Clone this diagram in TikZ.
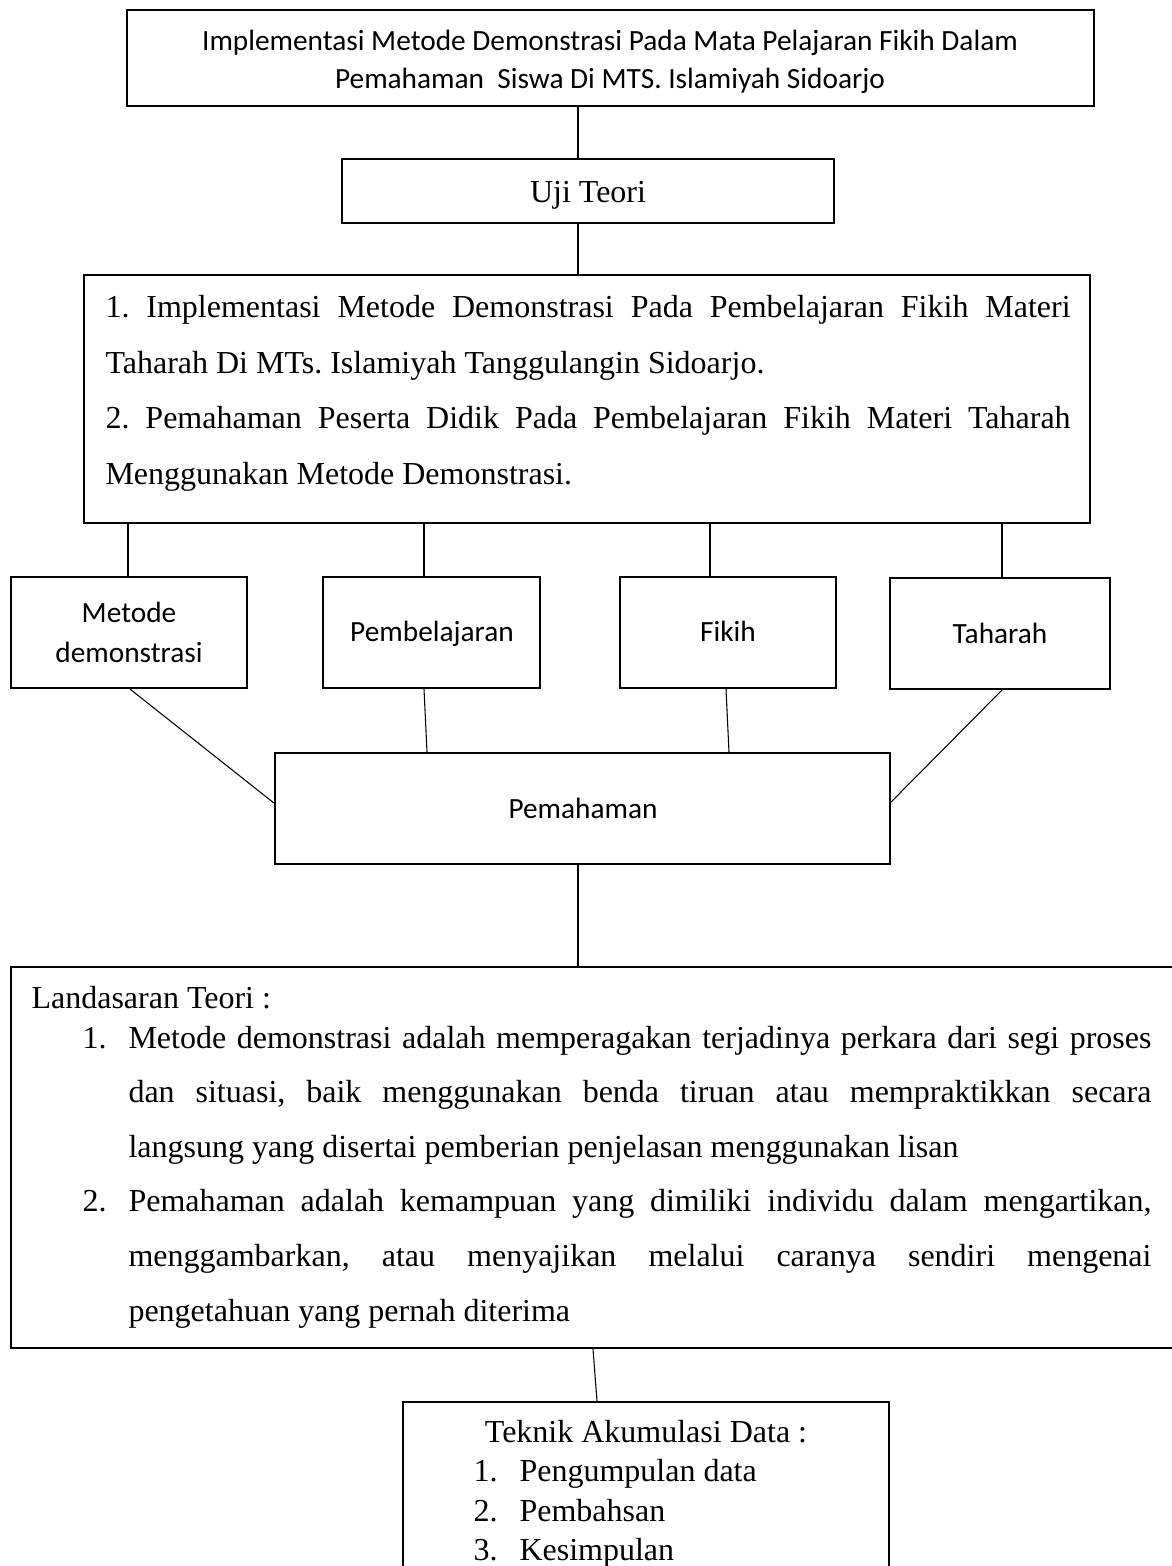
\documentclass[tikz,border=0pt]{standalone}
\usepackage{fontspec}
\setmainfont{Liberation Serif}
\newfontfamily\calibri{Carlito}
\usetikzlibrary{fit}
\frenchspacing
\newcommand{\jla}[1]{\makebox[361.9pt][s]{#1}}
\newcommand{\jlb}[1]{\makebox[383.6pt][s]{#1}}
\tikzset{
  box/.style={draw, line width=0.8pt, inner sep=0pt},
  conn/.style={draw, line width=0.4pt},
  tnr/.style={inner sep=0pt, anchor=base, font=\fontsize{12}{14}\selectfont},
  tl/.style={tnr, anchor=base west},
  sans/.style={inner sep=0pt, anchor=base, font=\calibri\fontsize{11}{14}\selectfont},
}
\begin{document}
\begin{tikzpicture}[x=0.375pt,y=-0.375pt]
\useasboundingbox (0,0) rectangle (1172,1566);
% helper coordinates
\coordinate (x578) at (578,0);
\coordinate (x128) at (128,0);
\coordinate (x424) at (424,0);
\coordinate (x710) at (710,0);
\coordinate (x1002) at (1002,0);
\coordinate (h1) at (130,803);
\coordinate (h4) at (1002,802);
\coordinate (h2a) at (424,0);
\coordinate (h2b) at (427,0);
\coordinate (h3a) at (726,0);
\coordinate (h3b) at (729,0);
\coordinate (c593) at (593,0);
\coordinate (c597) at (597,0);

% top box
\node[box, fit={(127,10)(1094,106)}] (top) {};
\node[sans] (toptxt1) at (610,50) {Implementasi Metode Demonstrasi Pada Mata Pelajaran Fikih Dalam};
\node[sans] (toptxt2) at (610,88) {Pemahaman\ \ Siswa Di MTS. Islamiyah Sidoarjo};

% uji teori
\node[box, fit={(342,159)(834,223)}] (uji) {};
\node[tnr] (ujitxt) at (588,202) {Uji Teori};
\draw[conn] (top.south -| x578) -- (uji.north -| x578);

% box 1
\node[box, fit={(84,275)(1090,523)}] (b1) {};
\draw[conn] (uji.south -| x578) -- (b1.north -| x578);
\node[tl] (b1a) at (105,317) {\jla{1. Implementasi Metode Demonstrasi Pada Pembelajaran Fikih Materi}};
\node[tl] (b1b) at (105,373) {Taharah Di MTs. Islamiyah Tanggulangin Sidoarjo.};
\node[tl] (b1c) at (105,428.5) {\jla{2. Pemahaman Peserta Didik Pada Pembelajaran Fikih Materi Taharah}};
\node[tl] (b1d) at (105,484) {Menggunakan Metode Demonstrasi.};

% four small boxes
\node[box, fit={(11,577)(247,688)}] (m1) {};
\node[box, fit={(323,577)(540,688)}] (m2) {};
\node[box, fit={(620,577)(836,688)}] (m3) {};
\node[box, fit={(890,578)(1110,689)}] (m4) {};
\node[sans] (m1t1) at (129,622) {Metode};
\node[sans] (m1t2) at (129,662) {demonstrasi};
\node[sans] (m2t) at (432,641) {Pembelajaran};
\node[sans] (m3t) at (728,641) {Fikih};
\node[sans] (m4t) at (1000,643) {Taharah};
\draw[conn] (b1.south -| x128) -- (m1.north -| x128);
\draw[conn] (b1.south -| x424) -- (m2.north -| x424);
\draw[conn] (b1.south -| x710) -- (m3.north -| x710);
\draw[conn] (b1.south -| x1002) -- (m4.north -| x1002);

% pemahaman
\node[box, fit={(275,753)(890,864)}] (pem) {};
\node[sans] (pemt) at (583,818) {Pemahaman};
\draw[conn] (m1.south -| h1) -- (pem.west |- h1);
\draw[conn] (m2.south -| h2a) -- (pem.north -| h2b);
\draw[conn] (m3.south -| h3a) -- (pem.north -| h3b);
\draw[conn] (m4.south -| h4) -- (pem.east |- h4);

% landasan box
\node[box, fit={(11,967)(1200,1348)}] (b2) {};
\draw[conn] (pem.south -| x578) -- (b2.north -| x578);
\node[tl] (b2h) at (31,1008) {Landasaran Teori :};
\node[tl] (b2n1) at (82,1048) {1.};
\node[tl] (b2a) at (128,1048) {\jlb{Metode demonstrasi adalah memperagakan terjadinya perkara dari segi proses}};
\node[tl] (b2b) at (128,1102.6) {\jlb{dan situasi, baik menggunakan benda tiruan atau mempraktikkan secara}};
\node[tl] (b2c) at (128,1157.2) {langsung yang disertai pemberian penjelasan menggunakan lisan};
\node[tl] (b2n2) at (82,1211.8) {2.};
\node[tl] (b2d) at (128,1211.8) {\jlb{Pemahaman adalah kemampuan yang dimiliki individu dalam mengartikan,}};
\node[tl] (b2e) at (128,1266.4) {\jlb{menggambarkan, atau menyajikan melalui caranya sendiri mengenai}};
\node[tl] (b2f) at (128,1321) {pengetahuan yang pernah diterima};

% teknik box
\node[box, fit={(403,1402)(889,1620)}] (tek) {};
\draw[conn] (b2.south -| c593) -- (tek.north -| c597);
\node[tnr] (tekh) at (646,1442) {Teknik Akumulasi Data :};
\node[tl] (tn1) at (473,1481) {1.};
\node[tl] (tt1) at (519,1481) {Pengumpulan data};
\node[tl] (tn2) at (473,1521) {2.};
\node[tl] (tt2) at (519,1521) {Pembahsan};
\node[tl] (tn3) at (473,1560) {3.};
\node[tl] (tt3) at (519,1560) {Kesimpulan};
\end{tikzpicture}
\end{document}
